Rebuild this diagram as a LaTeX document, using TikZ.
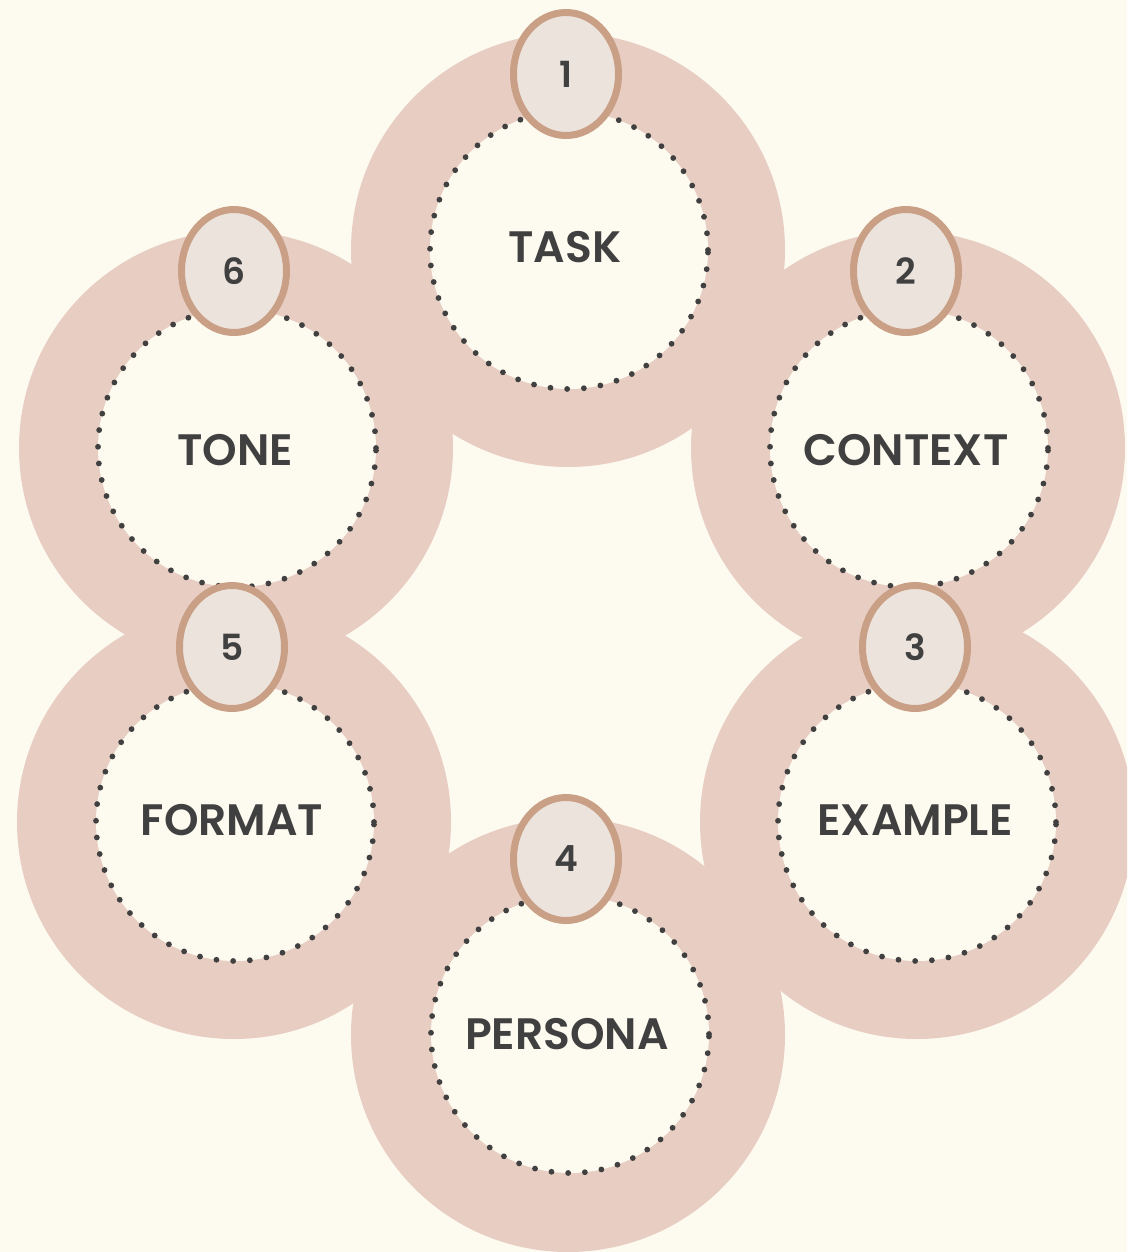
\documentclass[tikz,border=0pt]{standalone}
\usepackage{fontspec}
\setmainfont{Poppins}[BoldFont={Poppins SemiBold}]
\usetikzlibrary{shapes.geometric}
\definecolor{bg}{HTML}{FDFAEF}
\definecolor{ringc}{HTML}{E8CDC3}
\definecolor{ellfill}{HTML}{ECE3DD}
\definecolor{ellline}{HTML}{C9A086}
\definecolor{txt}{HTML}{404040}
\tikzset{
  ring/.style={circle, fill=ringc, minimum size=434pt, inner sep=0pt},
  inner/.style={circle, fill=bg, draw=txt, line width=5.8pt, dash pattern=on 0pt off 16.75pt, line cap=round, minimum size=278pt, inner sep=0pt},
  lbl/.style={text=txt, font=\fontsize{44}{44}\selectfont\bfseries},
  num/.style={ellipse, fill=ellfill, draw=ellline, line width=7pt, minimum width=105pt, minimum height=123pt, inner sep=0pt, text=txt, font=\fontsize{36}{36}\selectfont\bfseries}
}
\begin{document}
\begin{tikzpicture}[x=1pt,y=-1pt]
\path[fill=bg] (0,0) rectangle (1127,1252);
\begin{scope}
\clip (0,0) rectangle (1127,1252);
\node[ring] (r1) at (568,250) {};
\node[ring] (r2) at (908,448) {};
\node[ring] (r3) at (917,822) {};
\node[ring] (r4) at (568,1035) {};
\node[ring] (r5) at (234,822) {};
\node[ring] (r6) at (236,448) {};
\end{scope}
\node[inner] (c1) at (569,250) {};
\node[inner] (c2) at (909,448) {};
\node[inner] (c3) at (917,822) {};
\node[inner] (c4) at (570,1034) {};
\node[inner] (c5) at (235,822) {};
\node[inner] (c6) at (237,448) {};
\node[lbl] (t1) at (565,247) {TASK};
\node[lbl] (t2) at (906,450) {CONTEXT};
\node[lbl] (t3) at (915,820) {EXAMPLE};
\node[lbl] (t4) at (567,1034) {PERSONA};
\node[lbl] (t5) at (232,820) {FORMAT};
\node[lbl] (t6) at (235,450) {TONE};
\node[num] (n1) at (566,74) {1};
\node[num] (n2) at (906,271) {2};
\node[num] (n3) at (915,647) {3};
\node[num] (n4) at (566,859) {4};
\node[num] (n5) at (232,647) {5};
\node[num] (n6) at (234,271) {6};
\end{tikzpicture}
\end{document}
